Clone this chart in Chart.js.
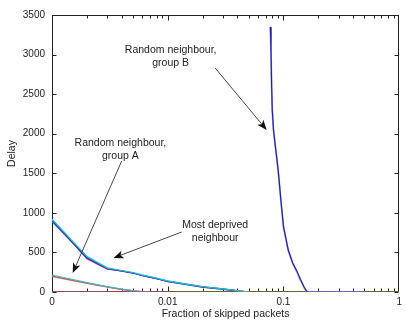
<!DOCTYPE html>
<html>
<head>
<meta charset="utf-8">
<script src="https://cdn.jsdelivr.net/npm/chart.js@4/dist/chart.umd.min.js"></script>
<style>
  html, body { margin: 0; padding: 0; background: #fff; }
</style>
</head>
<body>
<canvas id="myChart" width="406" height="320"></canvas>
<script>
// fraction of skipped packets ("0" sits at 0.001 on the log axis)
let mdFraction = [0.001, 0.002, 0.003, 0.004, 0.005, 0.006, 0.008, 0.01, 0.015, 0.02, 0.03, 0.04, 0.05];
let mdDelay1 = [920, 450, 305, 272, 246, 216, 176, 140, 96, 66, 40, 18, 0];
let mdDelay2 = [905, 430, 296, 266, 240, 210, 170, 134, 92, 62, 36, 15, 0];
let mdDelay3 = [890, 440, 300, 262, 237, 212, 172, 131, 90, 60, 34, 14, 0];
let mdDelay4 = [912, 420, 290, 268, 243, 207, 167, 138, 98, 67, 41, 19, 0];

let aFraction = [0.001, 0.002, 0.003, 0.004, 0.005, 0.006, 0.007];
let aDelay1 = [215, 118, 68, 38, 18, 6, 0];
let aDelay2 = [202, 112, 64, 34, 14, 4, 0];
let aDelay3 = [194, 108, 60, 30, 11, 3, 0];

let bFraction = [0.077, 0.078, 0.079, 0.08, 0.082, 0.085, 0.09, 0.095, 0.1, 0.11, 0.12, 0.13, 0.14, 0.15, 0.16, 0.2, 0.3, 0.4, 0.5];
let bDelay1 = [3350, 3050, 2600, 2300, 2050, 1850, 1540, 1160, 830, 530, 370, 270, 160, 70, 0, 0, 0, 0, 0];
let bDelay2 = [3340, 3040, 2590, 2290, 2040, 1840, 1530, 1150, 820, 520, 360, 260, 150, 60, 0, 0, 0, 0, 0];

let zeroFraction = [0.001, 1];
let zeroDelay = [0, 0];
let zeroFraction2 = [0.001, 0.01];

let xTickValues = [0.001, 0.01, 0.1, 1];
let xTickLabels = ['0', '0.01', '0.1', '1'];
let yTickValues = [0, 500, 1000, 1500, 2000, 2500, 3000, 3500];

// annotation text and arrows, in data units [fraction, delay]
let notes = [
    { lines: ['Random neighbour,', 'group B'], at: [0.0106, 3060], from: [0.0257, 2830], to: [0.0716, 2047] },
    { lines: ['Random neighbour,', 'group A'], at: [0.0039, 1883], from: [0.0040, 1655], to: [0.00151, 240] },
    { lines: ['Most deprived', 'neighbour'], at: [0.0257, 847], from: [0.0132, 758], to: [0.0034, 430] }
];

const fontFamily = '"Liberation Sans", Arial, sans-serif';

function pts(xs, ys) {
    return xs.map((x, i) => ({ x: x, y: ys[i] }));
}

function line(xs, ys, color, width) {
    return {
        data: pts(xs, ys),
        borderColor: color,
        borderWidth: width || 1.2,
        pointRadius: 0,
        fill: false,
        tension: 0
    };
}

const framePlugin = {
    id: 'frame',
    beforeDatasetsDraw(chart) {
        // box and inward ticks, under the lines
        const ctx = chart.ctx;
        const a = chart.chartArea;
        const xs = chart.scales.x, ys = chart.scales.y;
        const L = Math.round(a.left) + 0.5, R = Math.round(a.right) - 0.5;
        const T = Math.round(a.top) + 0.5, B = Math.round(a.bottom) - 0.5;
        ctx.save();
        ctx.strokeStyle = '#222';
        ctx.lineWidth = 1;
        ctx.strokeRect(L, T, R - L, B - T);

        ctx.beginPath();
        yTickValues.forEach(v => {
            const y = Math.round(ys.getPixelForValue(v)) + 0.5;
            ctx.moveTo(L, y); ctx.lineTo(L + 4, y);
            ctx.moveTo(R, y); ctx.lineTo(R - 4, y);
        });
        for (let d = 0; d < 3; d++) {
            const base = xTickValues[d];
            for (let m = 1; m <= 9; m++) {
                const x = Math.round(xs.getPixelForValue(base * m)) + 0.5;
                const len = m === 1 ? 5 : 3;
                ctx.moveTo(x, B); ctx.lineTo(x, B - len);
                ctx.moveTo(x, T); ctx.lineTo(x, T + len);
            }
        }
        ctx.stroke();
        ctx.restore();
    },
    afterDatasetsDraw(chart) {
        // annotations
        const ctx = chart.ctx;
        const xs = chart.scales.x, ys = chart.scales.y;
        ctx.save();
        ctx.font = '10.5px ' + fontFamily;
        ctx.textAlign = 'center';
        ctx.textBaseline = 'middle';
        notes.forEach(n => {
            const tx = xs.getPixelForValue(n.at[0]);
            const ty = ys.getPixelForValue(n.at[1]);
            ctx.fillStyle = '#222';
            n.lines.forEach((s, i) => ctx.fillText(s, tx, ty + i * 13));

            const x1 = xs.getPixelForValue(n.from[0]), y1 = ys.getPixelForValue(n.from[1]);
            const x2 = xs.getPixelForValue(n.to[0]), y2 = ys.getPixelForValue(n.to[1]);
            const ang = Math.atan2(y2 - y1, x2 - x1);
            ctx.strokeStyle = '#333';
            ctx.lineWidth = 0.9;
            ctx.beginPath();
            ctx.moveTo(x1, y1);
            ctx.lineTo(x2 - 6 * Math.cos(ang), y2 - 6 * Math.sin(ang));
            ctx.stroke();

            const hl = 10, hw = 4;
            const bx = x2 - hl * Math.cos(ang), by = y2 - hl * Math.sin(ang);
            const nx = x2 - (hl - 2.5) * Math.cos(ang), ny = y2 - (hl - 2.5) * Math.sin(ang);
            ctx.fillStyle = '#111';
            ctx.beginPath();
            ctx.moveTo(x2, y2);
            ctx.lineTo(bx + hw * Math.sin(ang), by - hw * Math.cos(ang));
            ctx.lineTo(nx, ny);
            ctx.lineTo(bx - hw * Math.sin(ang), by + hw * Math.cos(ang));
            ctx.closePath();
            ctx.fill();
        });
        ctx.restore();
    }
};

let ct1 = document.getElementById('myChart').getContext('2d');

// Chart.js paints the first dataset last, so the top-most line comes first
let myChart = new Chart(ct1, {
    type: 'line',
    data: {
        datasets: [
            line(bFraction, bDelay1, '#24249a', 1.2),
            line(bFraction, bDelay2, '#a8a8e8', 1.8),
            line(zeroFraction2, zeroDelay, '#b03090'),
            line(zeroFraction, zeroDelay, '#a8a830'),
            line(mdFraction, mdDelay1, '#20c0e0'),
            line(mdFraction, mdDelay2, '#3038a8'),
            line(mdFraction, mdDelay4, '#c04070'),
            line(mdFraction, mdDelay3, '#2a70c0'),
            line(aFraction, aDelay1, '#40b8c8'),
            line(aFraction, aDelay2, '#d04080'),
            line(aFraction, aDelay3, '#c8c040')
        ]
    },
    options: {
        responsive: false,
        animation: false,
        layout: {
            padding: { top: 15, right: 3, left: 0, bottom: 0 }
        },
        plugins: {
            legend: { display: false },
            tooltip: { enabled: false }
        },
        scales: {
            x: {
                type: 'logarithmic',
                position: 'bottom',
                min: 0.001,
                max: 1,
                afterBuildTicks: s => { s.ticks = xTickValues.map(v => ({ value: v })); },
                afterFit: s => { s.height = 28; },
                grid: { display: false, drawTicks: false },
                border: { display: false },
                ticks: {
                    autoSkip: false,
                    maxRotation: 0,
                    padding: 4,
                    color: '#222',
                    font: { family: fontFamily, size: 10 },
                    callback: (v, i) => xTickLabels[i]
                },
                title: {
                    display: true,
                    text: 'Fraction of skipped packets',
                    color: '#222',
                    padding: { top: 0, bottom: 0 },
                    font: { family: fontFamily, size: 10.5 }
                }
            },
            y: {
                type: 'linear',
                min: 0,
                max: 3500,
                afterBuildTicks: s => { s.ticks = yTickValues.map(v => ({ value: v })); },
                afterFit: s => { s.width = 52; },
                grid: { display: false, drawTicks: false },
                border: { display: false },
                ticks: {
                    padding: 7,
                    color: '#222',
                    font: { family: fontFamily, size: 10 },
                    callback: v => String(v)
                },
                title: {
                    display: true,
                    text: 'Delay',
                    color: '#222',
                    padding: { top: 6, bottom: 0 },
                    font: { family: fontFamily, size: 10.5 }
                }
            }
        }
    },
    plugins: [framePlugin]
});
</script>
</body>
</html>
